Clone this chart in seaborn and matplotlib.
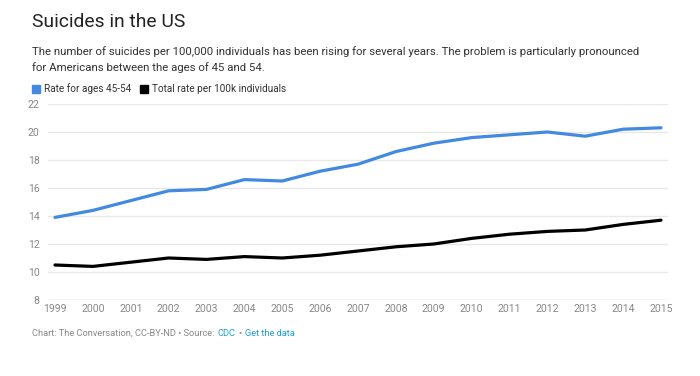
import numpy as np
import pandas as pd
import matplotlib
matplotlib.use("Agg")
import matplotlib.pyplot as plt
from matplotlib.patches import Rectangle
import seaborn as sns

# ---- data ----
years = list(range(1999, 2016))
rate_45_54 = [13.9, 14.4, 15.1, 15.8, 15.9, 16.6, 16.5, 17.2, 17.7, 18.6,
              19.2, 19.6, 19.8, 20.0, 19.7, 20.2, 20.3]
rate_total = [10.5, 10.4, 10.7, 11.0, 10.9, 11.1, 11.0, 11.2, 11.5, 11.8,
              12.0, 12.4, 12.7, 12.9, 13.0, 13.4, 13.7]
series_names = ["Rate for ages 45-54", "Total rate per 100k individuals"]
series_colors = ["#4389e0", "#000000"]
y_ticks = [8, 10, 12, 14, 16, 18, 20, 22]

df = pd.DataFrame({
    "year": years * 2,
    "rate": rate_45_54 + rate_total,
    "series": [series_names[0]] * len(years) + [series_names[1]] * len(years),
})

sns.set_theme(style="white")
plt.rcParams["font.family"] = ["Roboto", "DejaVu Sans"]

fig = plt.figure(figsize=(7, 3.76), dpi=100)
ax = fig.add_axes([48 / 700, 1 - 300 / 376, 620 / 700, 196 / 376])

sns.lineplot(data=df, x="year", y="rate", hue="series",
             palette=dict(zip(series_names, series_colors)),
             linewidth=2.3, legend=False, ax=ax)

ax.set_xlim(1999 - 7 / 37.875, 2015 + 7 / 37.875)
ax.set_ylim(8, 22)
ax.set_yticks(y_ticks)
ax.set_xticks(years)
ax.set_xticklabels([str(y) for y in years])
ax.grid(axis="y", color="#e8e8e8", linewidth=1)
ax.set_axisbelow(True)
for s in ax.spines.values():
    s.set_visible(False)
ax.axhline(8, color="#dddddd", linewidth=1, zorder=0)
ax.tick_params(axis="both", length=0, labelsize=7.6, labelcolor="#888888")
ax.tick_params(axis="y", pad=6)
ax.tick_params(axis="x", pad=3)
ax.set_xlabel("")
ax.set_ylabel("")

# ---- header text ----
fig.text(32 / 700, 1 - 22 / 376, "Suicides in the US", fontsize=13.9,
         color="#222222", va="center", ha="left")
fig.text(32 / 700, 1 - 52 / 376,
         "The number of suicides per 100,000 individuals has been rising for several years. "
         "The problem is particularly pronounced",
         fontsize=8.2, color="#333333", va="center", ha="left")
fig.text(32 / 700, 1 - 68 / 376, "for Americans between the ages of 45 and 54.",
         fontsize=8.2, color="#333333", va="center", ha="left")

# ---- legend ----
legend_x = [32, 140]
for name, col, lx in zip(series_names, series_colors, legend_x):
    fig.patches.append(Rectangle((lx / 700, 1 - 93 / 376), 8 / 700, 8 / 376,
                                 transform=fig.transFigure, color=col))
    fig.text((lx + 12) / 700, 1 - 89 / 376, name, fontsize=7.2,
             color="#333333", va="center", ha="left")

# ---- footer (pieces placed one after another) ----
footer = [("Chart: The Conversation, CC-BY-ND \u2022 Source:", "#888888"),
          ("CDC", "#1ca0d8"),
          ("\u2022", "#888888"),
          ("Get the data", "#1ca0d8")]
renderer = fig.canvas.get_renderer()
fx = 32
for txt, col in footer:
    t = fig.text(fx / 700, 1 - 333 / 376, txt, fontsize=6.7, color=col,
                 va="center", ha="left")
    bb = t.get_window_extent(renderer=renderer)
    fx += bb.width + 3

fig.savefig("out.png", dpi=100, facecolor="white")
